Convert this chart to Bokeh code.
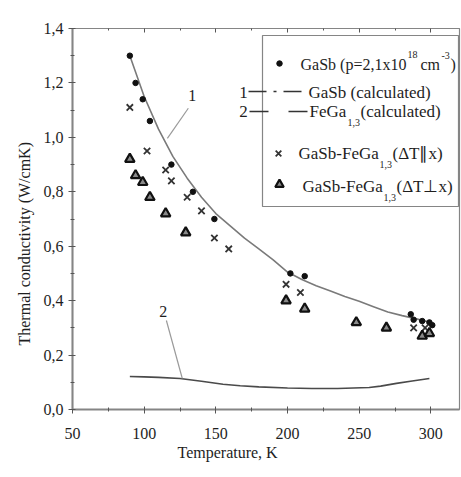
import math
from bokeh.plotting import figure
from bokeh.models import Range1d, FixedTicker, LinearAxis, CustomJSTickFormatter, Label, Title
from bokeh.embed import file_html
from bokeh.resources import INLINE

# ---------------- data ----------------
gasb_T = [90, 94, 99, 104, 119, 134, 149, 202, 212, 286, 288, 294, 299, 301]
gasb_k = [1.30, 1.20, 1.14, 1.06, 0.90, 0.80, 0.70, 0.50, 0.49, 0.35, 0.33, 0.325, 0.32, 0.31]

par_T = [90, 102, 115, 119, 130, 140, 149, 159, 199, 209, 288, 296]
par_k = [1.11, 0.95, 0.88, 0.84, 0.78, 0.73, 0.63, 0.59, 0.46, 0.43, 0.30, 0.30]

perp_T = [90, 94, 99, 104, 115, 129, 199, 212, 248, 269, 294, 299]
perp_k = [0.92, 0.86, 0.835, 0.78, 0.72, 0.65, 0.40, 0.37, 0.32, 0.30, 0.27, 0.28]

calc1_T = [90, 100, 110, 120, 130, 140, 150, 160, 170, 180, 190, 200, 210, 220,
           230, 240, 250, 260, 270, 280, 290, 300]
calc1_k = [1.30, 1.15, 1.03, 0.93, 0.85, 0.78, 0.72, 0.675, 0.63, 0.59, 0.55, 0.505,
           0.478, 0.455, 0.435, 0.415, 0.398, 0.378, 0.358, 0.345, 0.333, 0.32]

calc2_T = [90, 100, 110, 125, 140, 155, 167, 180, 200, 217, 235, 257, 265, 276, 287, 299]
calc2_k = [0.121, 0.120, 0.118, 0.114, 0.104, 0.093, 0.087, 0.083, 0.079, 0.077,
           0.077, 0.081, 0.086, 0.096, 0.105, 0.114]

x_ticks = [50, 100, 150, 200, 250, 300]
x_minor = [75, 125, 175, 225, 275]
y_ticks = [0.0, 0.2, 0.4, 0.6, 0.8, 1.0, 1.2, 1.4]
y_minor = [0.1, 0.3, 0.5, 0.7, 0.9, 1.1, 1.3]

# ---------------- layout ----------------
W, H = 461, 477
FL, FR, FT, FB = 72, 459, 28, 409
XR = (50, 320)
YR = (0, 1.4)
FONT = "'Liberation Serif', 'Times New Roman', serif"
TXT = "#1e1e1e"
GRAY = "#858585"


def sx(px):
    return XR[0] + (px - FL) * (XR[1] - XR[0]) / (FR - FL)


def sy(py):
    return YR[0] + (FB - py) * (YR[1] - YR[0]) / (FB - FT)


p = figure(width=W, height=H, x_range=Range1d(*XR), y_range=Range1d(*YR),
           output_backend="svg", toolbar_location=None,
           min_border_left=FL, min_border_right=W - FR,
           min_border_top=FT, min_border_bottom=H - FB)
p.grid.visible = False
p.outline_line_color = GRAY
p.outline_line_width = 1.2
p.background_fill_color = "white"
p.border_fill_color = "white"

comma = CustomJSTickFormatter(code="return tick.toFixed(1).replace('.', ',');")

for ax in (p.xaxis[0], p.yaxis[0]):
    ax.axis_line_color = GRAY
    ax.axis_line_width = 2
    ax.major_tick_line_color = "#555555"
    ax.minor_tick_line_color = "#555555"
    ax.major_tick_in = 3
    ax.major_tick_out = 4
    ax.minor_tick_in = 2
    ax.minor_tick_out = 2
    ax.major_label_text_font = FONT
    ax.major_label_text_font_size = "16px"
    ax.major_label_text_color = TXT

p.xaxis.ticker = FixedTicker(ticks=x_ticks, minor_ticks=x_minor)
p.yaxis.ticker = FixedTicker(ticks=y_ticks, minor_ticks=y_minor)
p.yaxis.formatter = comma
p.xaxis.major_label_standoff = 14
p.yaxis.major_label_standoff = 5

top = LinearAxis(ticker=FixedTicker(ticks=x_ticks, minor_ticks=x_minor),
                 formatter=CustomJSTickFormatter(code="return '';"),
                 axis_line_color=GRAY, axis_line_width=1.2,
                 major_tick_in=4, major_tick_out=0, minor_tick_in=2, minor_tick_out=0,
                 major_tick_line_color="#555555", minor_tick_line_color="#555555",
                 major_label_text_font_size="1px", major_label_standoff=0)
p.add_layout(top, "above")

# axis titles
p.add_layout(Title(text="Temperature, K", text_font=FONT, text_font_size="16px",
                   text_font_style="normal", text_color=TXT, align="left",
                   offset=105, standoff=0), "below")
p.add_layout(Title(text="Thermal conductivity (W/cmK)", text_font=FONT, text_font_size="16px",
                   text_font_style="normal", text_color=TXT, align="left",
                   offset=64, standoff=16), "left")

# ---------------- curves ----------------
p.line(calc1_T, calc1_k, line_color="#7a7a7a", line_width=1.6)
p.line(calc2_T, calc2_k, line_color="#4a4a4a", line_width=1.6)

# curve labels with leaders
p.segment(x0=[130.8], y0=[1.107], x1=[116.2], y1=[0.996], line_color="#9a9a9a", line_width=1.2)
p.add_layout(Label(x=133.6, y=1.154, text="1", text_font=FONT, text_font_size="16px",
                   text_color=TXT, text_align="center", text_baseline="middle"))
p.segment(x0=[115.5], y0=[0.327], x1=[126.6], y1=[0.114], line_color="#9a9a9a", line_width=1.2)
p.add_layout(Label(x=113.4, y=0.36, text="2", text_font=FONT, text_font_size="16px",
                   text_color=TXT, text_align="center", text_baseline="middle"))

# ---------------- data points ----------------
p.scatter(gasb_T, gasb_k, marker="circle", size=5.5, fill_color="#111111", line_color="#111111")
p.scatter(par_T, par_k, marker="x", size=9, line_color="#333333", line_width=1.8)
p.scatter(perp_T, perp_k, marker="triangle", size=9.5, fill_color="#8a8a8a",
          line_color="#111111", line_width=2.2)

# ---------------- legend (drawn by hand) ----------------
p.quad(left=[sx(262)], right=[sx(458)], top=[sy(35)], bottom=[sy(206)],
       fill_color="white", line_color=GRAY, line_width=1.2)


def txt(px, py, s, size="17px", align="left"):
    p.add_layout(Label(x=sx(px), y=sy(py), text=s, text_font=FONT, text_font_size=size,
                       text_color=TXT, text_align=align, text_baseline="middle"))


# row 1
p.scatter([sx(279)], [sy(63)], marker="circle", size=5.5, fill_color="#111111", line_color="#111111")
txt(300, 64, "GaSb (p=2,1x10", size="16px")
txt(407, 54, "18", size="10px")
txt(420, 64, "cm", size="16px")
txt(441, 55, "-3", size="10px")
txt(450, 64, ")", size="16px")
# row 2
txt(243, 92, "1", align="center")
p.line([sx(248), sx(307)], [sy(91), sy(91)], line_color="#333333", line_width=1.3,
       line_dash="18 7 3 7")
txt(308, 92, "GaSb (calculated)")
# row 3
txt(243, 111, "2", align="center")
p.line([sx(249), sx(307)], [sy(111), sy(111)], line_color="#333333", line_width=1.3,
       line_dash="19 20")
txt(309, 111, "FeGa")
txt(347, 122, "1,3", size="10px")
txt(360, 111, "(calculated)")
# row 4
p.scatter([sx(278)], [sy(153)], marker="x", size=8, line_color="#333333", line_width=1.8)
txt(298, 153, "GaSb-FeGa")
txt(379, 164, "1,3", size="10px")
txt(392, 153, "(\u0394T\u2225x)")
# row 5
p.scatter([sx(279)], [sy(184)], marker="triangle", size=8.5, fill_color="#8a8a8a",
          line_color="#111111", line_width=2.2)
txt(302, 186, "GaSb-FeGa")
txt(383, 197, "1,3", size="10px")
txt(396, 186, "(\u0394T\u22a5x)")

open("out.html", "w").write(file_html(p, INLINE))
